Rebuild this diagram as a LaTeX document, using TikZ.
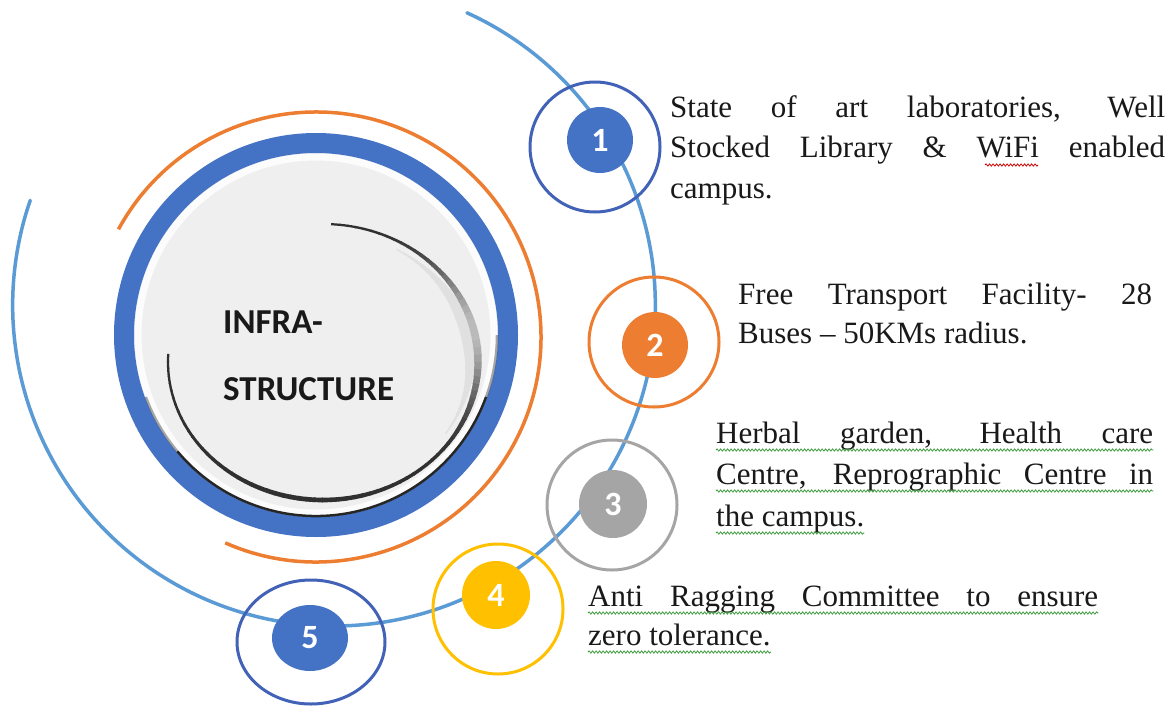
\documentclass[tikz,border=0pt]{standalone}
\usepackage{fontspec}
\setmainfont{Liberation Serif}
\newfontfamily\carl{Carlito}[BoldFont={Carlito Bold}]
\usetikzlibrary{decorations.pathmorphing,shapes.geometric}
\definecolor{ringblue}{HTML}{4472C4}
\definecolor{darkblue}{HTML}{4262B8}
\definecolor{spiralblue}{HTML}{5B9BD5}
\definecolor{orangec}{HTML}{ED7D31}
\definecolor{grayc}{HTML}{A5A5A5}
\definecolor{goldc}{HTML}{FFC000}
\definecolor{discgray}{HTML}{EFEFEF}
\definecolor{squiggreen}{HTML}{3C9A3C}
\begin{document}
\begin{tikzpicture}[x=1pt,y=-1pt,
  numdot/.style={circle, minimum size=66, inner sep=0, text=white, font=\carl\bfseries\fontsize{34}{34}\selectfont},
  ringc/.style={circle, draw, line width=3, minimum size=130, inner sep=0},
  body/.style={anchor=base west, inner sep=0, font=\fontsize{31}{40}\selectfont, text=black!90},
  title/.style={anchor=base west, inner sep=0, font=\carl\bfseries\fontsize{35}{40}\selectfont, text=black!90},
  squig/.style={decorate, decoration={snake, amplitude=1.1pt, segment length=3.5pt}, line width=0.8},
  spiral/.style={spiralblue, line width=3.5, line cap=round}]
\useasboundingbox (0,0) rectangle (1175,707);
\fill[white] (0,0) rectangle (1175,707);

% ---- central disc
\coordinate (c) at (316,335);
\fill[discgray] (c) circle[radius=182];
\draw[white, line width=7, opacity=.85] (c) circle[radius=178];
\draw[ringblue, line width=20] (c) circle[radius=192];
% inner shadow at lower edge of ring
\draw[black!85, line width=2.5, opacity=.4] (c) ++(0:181) arc[start angle=0, end angle=20, radius=181];
\draw[black!85, line width=2.5] (c) ++(20:181) arc[start angle=20, end angle=140, radius=181];
\draw[black!85, line width=2.5, opacity=.4] (c) ++(140:181) arc[start angle=140, end angle=160, radius=181];

% ---- shaded crescent inside the disc
\coordinate (cc) at (323,362);
\foreach \a in {-60,-57,...,30}{
  \pgfmathsetmacro\w{12*exp(-((\a+15)/30)^2)}
  \draw[line width=\w pt, black!12] (cc) ++(\a:147 and 130)
     arc[start angle=\a, end angle=\a+3.4, x radius=147, y radius=130];
}
\foreach \a in {-87,-84,...,180}{
  \pgfmathsetmacro\w{2.2+5.5*exp(-((\a+10)/35)^2)+2.5*exp(-((\a-95)/45)^2)}
  \pgfmathsetmacro\d{int(82-55*exp(-((\a+15)/28)^2))}
  \draw[line width=\w pt, black!\d] (cc) ++(\a:155 and 138)
     arc[start angle=\a, end angle=\a+3.4, x radius=155, y radius=138];
}

% ---- orange arc
\coordinate (oc) at (316,337);
\draw[orangec, line width=3.5] (oc) ++(208.6:225) arc[start angle=208.6, end angle=473.8, radius=225];

% ---- spiral through the dots
\coordinate (sc) at (334,320);
\draw[spiral] plot[domain=201.5:-66.6, samples=150, variable=\t, smooth]
  ({334+(321-15*sin(\t))*cos(\t)}, {320+(321-15*sin(\t))*sin(\t)});

% ---- outer rings of the numbered dots
\node[ringc, darkblue] (r1) at (595,147) {};
\node[ringc, orangec] (r2) at (654,342) {};
\node[ringc, grayc] (r3) at (612,505) {};
\node[ringc, goldc] (r4) at (498,609) {};
\node[ellipse, draw, darkblue, line width=3, minimum width=148, minimum height=124, inner sep=0] (r5) at (311,642) {};

% ---- numbered dots
\node[numdot, fill=ringblue] (n1) at (600,140) {1};
\node[numdot, fill=orangec] (n2) at (655,345) {2};
\node[numdot, fill=grayc, minimum size=68] (n3) at (613,504) {3};
\node[numdot, fill=goldc, minimum size=68] (n4) at (496,595) {4};
\node[numdot, ellipse, minimum width=76, minimum height=66, fill=ringblue] (n5) at (310,638) {5};

% ---- texts
\node[title] (inf1) at (223,333) {INFRA-};
\node[title] (inf2) at (223,400) {STRUCTURE};

\node[body] (t1a) at (670,117) {\makebox[495pt][s]{State of art laboratories, Well}};
\node[body] (t1b) at (670,157) {\makebox[495pt][s]{Stocked Library \& WiFi enabled}};
\node[body] (t1c) at (670,198) {campus.};
\node[body] (t2a) at (738,304) {\makebox[414pt][s]{Free Transport Facility- 28}};
\node[body] (t2b) at (738,343) {Buses – 50KMs radius.};
\node[body] (t3a) at (716,443) {\makebox[437pt][s]{Herbal garden, Health care}};
\node[body] (t3b) at (716,484) {\makebox[437pt][s]{Centre, Reprographic Centre in}};
\node[body] (t3c) at (716,526) {the campus.};
\node[body] (t4a) at (588,606) {\makebox[510pt][s]{Anti Ragging Committee to ensure}};
\node[body] (t4b) at (588,645) {zero tolerance.};

% ---- spell-check squiggles
\draw[squig, red!80!black] (985,165) -- (1038,165);
\foreach \t in {t3a,t3b,t3c,t4a,t4b}{
  \draw[squig, squiggreen] ([yshift=-7pt]\t.base west) -- ([yshift=-7pt]\t.base east);
}
\end{tikzpicture}
\end{document}
